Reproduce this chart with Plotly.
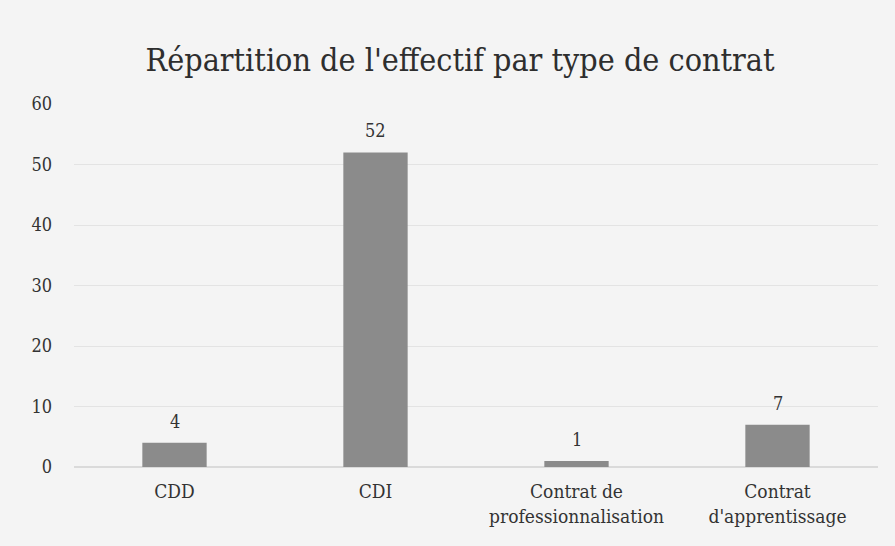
import plotly.graph_objects as go

categories = ["CDD", "CDI", "Contrat de<br>professionnalisation", "Contrat<br>d'apprentissage"]
values = [4, 52, 1, 7]
y_ticks = [0, 10, 20, 30, 40, 50, 60]

font_family = "DejaVu Serif Condensed, Liberation Serif, serif"
bg = "#f4f4f4"

fig = go.Figure(go.Bar(
    x=categories, y=values,
    marker=dict(color="#8b8b8b", line=dict(width=0)),
    hoverinfo="skip",
))

for c, v in zip(categories, values):
    fig.add_annotation(x=c, y=v, text=str(v), showarrow=False, yanchor="bottom",
                       yshift=9, font=dict(size=18, color="#333333", family=font_family))

fig.update_layout(
    width=895, height=546,
    paper_bgcolor=bg, plot_bgcolor=bg,
    margin=dict(l=74, r=17, t=104, b=79),
    bargap=0.68,
    showlegend=False,
    title=dict(text="Répartition de l'effectif par type de contrat",
               x=0.514, xanchor="center", y=0.89, yanchor="middle",
               font=dict(size=32, color="#2e2e2e", family=font_family)),
    font=dict(family=font_family, color="#333333", size=18),
)
fig.update_yaxes(range=[0, 60], tickvals=y_ticks, showgrid=True, gridcolor="#e3e3e3",
                 gridwidth=1, zeroline=True, zerolinecolor="#dadada", ticks="",
                 showline=False, tickfont=dict(size=18), ticklabelstandoff=21)
fig.update_xaxes(showgrid=False, showline=False, ticks="", tickfont=dict(size=19),
                 ticklabelstandoff=11)

fig.write_html("out.html", config={"displayModeBar": False},
               post_script="document.body.style.margin='0';document.body.style.background='%s';" % bg)
